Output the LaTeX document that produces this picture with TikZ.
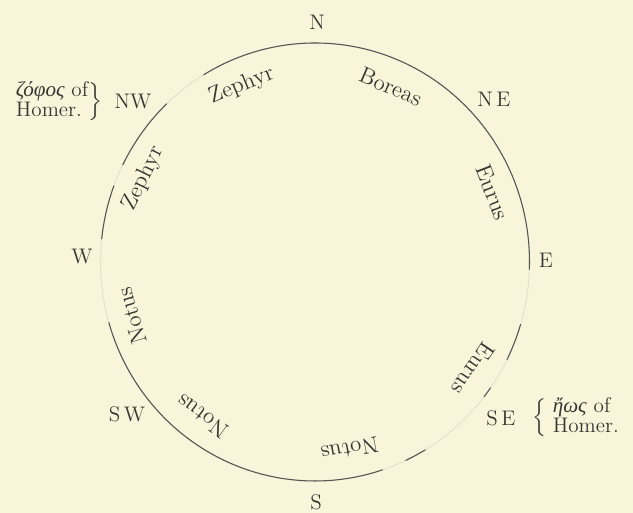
\documentclass[tikz,border=0pt]{standalone}
\usepackage{fontspec}
\usepackage{amsmath}
\usetikzlibrary{positioning}
\newfontfamily\greekfont{Liberation Serif}
\definecolor{paper}{RGB}{249,245,218}
\definecolor{ink}{RGB}{55,55,50}
\definecolor{faded}{RGB}{230,226,206}

\begin{document}
\begin{tikzpicture}[compass/.style={font=\large, text=ink, inner sep=1pt},
    windname/.style={font=\fontsize{13}{15}\selectfont, text=ink, inner sep=0pt},
    homer/.style={font=\fontsize{12}{11}\selectfont, text=ink, inner sep=0pt},
    rim/.style={draw=ink!85, line width=0.6pt}]

    % Background
    \path[use as bounding box, fill=paper] (-6.30,-5.02) rectangle (6.36,5.24);

    % Circle, worn out in places
    \draw[faded, line width=0.6pt] (0,0) ellipse [x radius=4.29, y radius=4.38];
    \foreach \a/\b in {196/288.4, 295/301, 322/325, 333.5/343.5, -2/121.3, 133.7/153.7, 159.6/174}
        \draw[rim] (\a:4.29 and 4.38) arc [start angle=\a, end angle=\b, x radius=4.29, y radius=4.38];

    % Points of the compass
    \node[compass] (n) at (0.04,4.80) {N};
    \node[compass] (ne) at (3.58,3.26) {N\,E};
    \node[compass] (e) at (4.62,0.04) {E};
    \node[compass] (se) at (3.72,-3.12) {S\,E};
    \node[compass] (s) at (0.02,-4.80) {S};
    \node[compass] (sw) at (-3.76,-3.04) {S\,W};
    \node[compass] (w) at (-4.66,0.10) {W};
    \node[compass] (nw) at (-3.64,3.20) {NW};

    % Homer's notes
    \node[homer, left=0.2cm of nw] (zophos) {$\left.\begin{tabular}{@{}l@{}}{\greekfont\itshape ζόφος} of\\Homer.\end{tabular}\right\}$};
    \node[homer, right=0.3cm of se] (eos) {$\left\{\;\begin{tabular}{@{}l@{}}{\greekfont\itshape ἤως} of\\Homer.\end{tabular}\right.$};

    % Winds
    \foreach \ang/\wind [count=\k] in {112.6/Zephyr, 66.6/Boreas, 21.4/Eurus, -34/Eurus, -79.5/Notus, -126.2/Notus, -163.7/Notus, 154/Zephyr}
        \node[windname, rotate=\ang-90] (wind\k) at (\ang:3.82) {\wind};

\end{tikzpicture}
\end{document}
